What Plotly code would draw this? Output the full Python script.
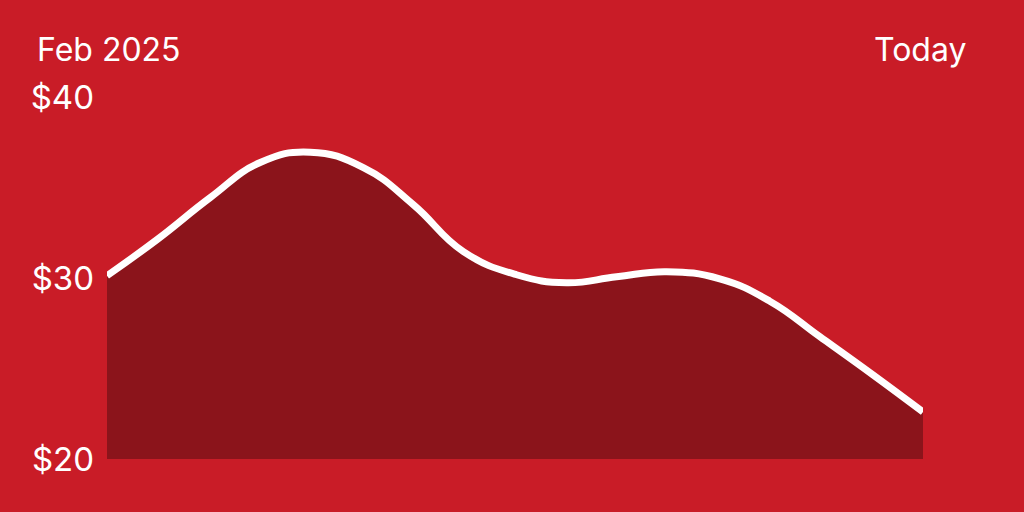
import plotly.graph_objects as go

# days since start of Feb 2025
days = [0, 16, 33, 49, 65, 82, 98, 114, 131, 147, 163, 179, 196, 212, 228, 245, 261]
price = [30.13, 32.12, 34.44, 36.38, 36.95, 36.10, 34.05, 31.46, 30.18,
         29.74, 30.07, 30.35, 29.95, 28.72, 26.76, 24.65, 22.60]

tick_vals = [20, 30, 40]
tick_text = ["$20", "$30", "$40"]

bg = "#C91C27"
fill_col = "#8B141B"
font = "Inter, 'Liberation Sans', sans-serif"

fig = go.Figure()
fig.add_trace(go.Scatter(
    x=days, y=price, mode="lines",
    line=dict(color="white", width=7, shape="spline", smoothing=1.3),
    fill="tozeroy", fillcolor=fill_col,
    hoverinfo="skip",
))

fig.update_layout(
    width=1024, height=512,
    margin=dict(l=107, r=101, t=97, b=53),
    paper_bgcolor=bg, plot_bgcolor=bg,
    showlegend=False,
    font=dict(family=font, color="white", size=33),
    xaxis=dict(range=[days[0], days[-1]], visible=False, fixedrange=True),
    yaxis=dict(range=[20, 40], tickvals=tick_vals, ticktext=tick_text,
               showgrid=False, zeroline=False, showline=False,
               ticklabelstandoff=12, tickfont=dict(size=33, color="white"),
               fixedrange=True),
    annotations=[
        dict(text="Feb 2025", xref="paper", yref="paper", x=-0.088, y=1.131,
             xanchor="left", yanchor="middle", showarrow=False,
             font=dict(size=32, color="white")),
        dict(text="Today", xref="paper", yref="paper", x=1.055, y=1.131,
             xanchor="right", yanchor="middle", showarrow=False,
             font=dict(size=32, color="white")),
    ],
)

fig.write_html("out.html", config={"displayModeBar": False},
               post_script="document.body.style.margin='0';"
                           "document.body.style.background='%s';" % bg)
